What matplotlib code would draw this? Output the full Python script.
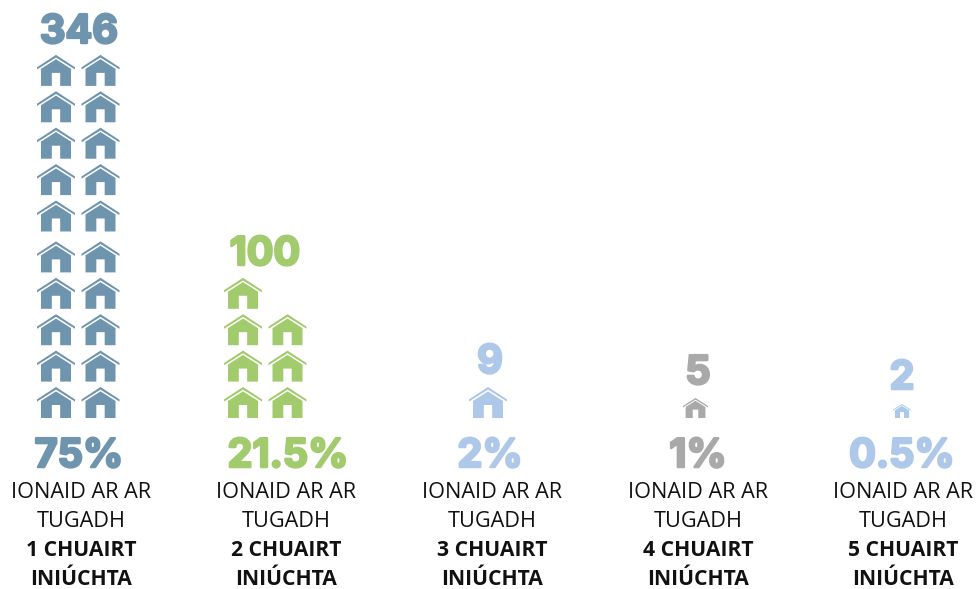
import matplotlib
matplotlib.use("Agg")
import matplotlib.pyplot as plt
import matplotlib.patheffects as pe
from matplotlib.path import Path
from matplotlib.patches import PathPatch
from matplotlib.transforms import Affine2D

# data
counts = ["346", "100", "9", "5", "2"]
percents = ["75%", "21.5%", "2%", "1%", "0.5%"]
visits = ["1 CHUAIRT", "2 CHUAIRT", "3 CHUAIRT", "4 CHUAIRT", "5 CHUAIRT"]
icons = [20, 7, 1, 1, 1]
colors = ["#6f94ad", "#a2cb6e", "#adc8e8", "#a9a9a9", "#adc8e8"]

# layout, pixels
label_x = [81, 286, 492, 698, 903]
pct_x = [79, 288, 490, 698, 902]
count_x = [79, 265, 490, 698, 902]
count_base = [43, 265, 373, 384, 389]
icon_left = [37, 224, 469, 683, 893]
icon_w = [38, 38, 38, 25, 18]
icon_h = [31, 31, 31, 20, 14]
col_step = 44.5
row_step = 36.4
blue_gap = 4.5


def house_path():
    roof = [(0, .40), (.5, 0), (1, .40), (1, .47), (.5, .085), (0, .47), (0, .40)]
    body = [(.5, .14), (.895, .45), (.895, 1), (.61, 1), (.61, .58), (.39, .58),
            (.39, 1), (.105, 1), (.105, .45), (.5, .14)]
    verts = roof + body
    codes = [Path.MOVETO] + [Path.LINETO] * 5 + [Path.CLOSEPOLY]
    codes += [Path.MOVETO] + [Path.LINETO] * 8 + [Path.CLOSEPOLY]
    return Path(verts, codes)


fig = plt.figure(figsize=(9.76, 5.89), dpi=100)
ax = fig.add_axes([0, 0, 1, 1])
ax.set_xlim(0, 976)
ax.set_ylim(589, 0)
ax.axis("off")

house = house_path()
num_font = dict(family="Inter", weight="bold", ha="center", va="baseline", fontsize=28.5)
label_font = dict(family="Open Sans", ha="center", va="baseline", color="#111111")

for i in range(5):
    # icons fill from the bottom, two per row
    for n in range(icons[i]):
        row = n // 2
        col = n % 2
        bottom = 418 - row * row_step
        if i == 0 and row >= 5:
            bottom -= blue_gap
        left = icon_left[i] + col * col_step
        tr = Affine2D().scale(icon_w[i], icon_h[i]).translate(left, bottom - icon_h[i]) + ax.transData
        ax.add_patch(PathPatch(house, transform=tr, facecolor=colors[i], edgecolor="none"))

    for txt, x, y in [(counts[i], count_x[i], count_base[i]), (percents[i], pct_x[i], 467)]:
        t = ax.text(x, y, txt, color=colors[i], **num_font)
        t.set_path_effects([pe.withStroke(linewidth=1.8, foreground=colors[i])])

    ax.text(label_x[i], 498, "IONAID AR AR", fontsize=15.6, **label_font)
    ax.text(label_x[i], 527, "TUGADH", fontsize=15.6, **label_font)
    ax.text(label_x[i], 556, visits[i], weight="bold", fontsize=15.2, **label_font)
    ax.text(label_x[i], 585, "INIÚCHTA", weight="bold", fontsize=15.2, **label_font)

fig.savefig("out.png", dpi=100)
